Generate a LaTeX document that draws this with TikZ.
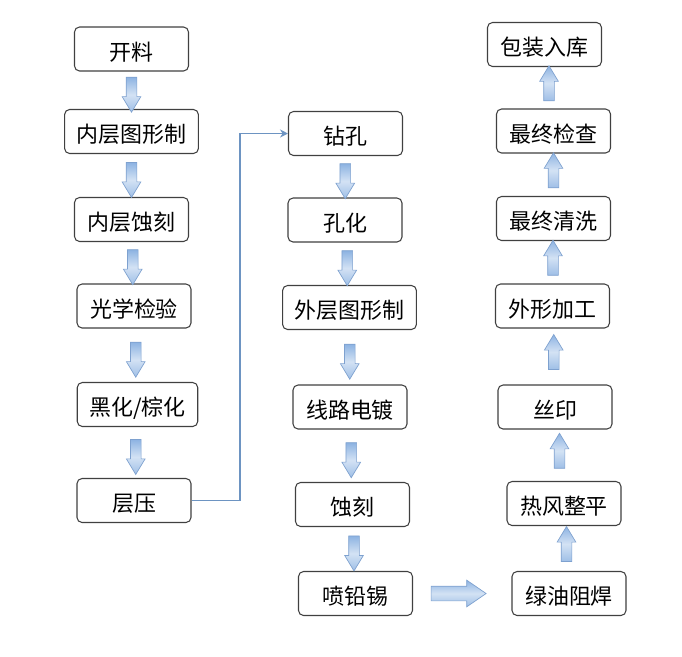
\documentclass[tikz,border=0pt]{standalone}
\usepackage{fontspec}
\usepackage{xcolor}
\usepackage{tikz}
\newfontfamily\cjk{Noto Sans CJK SC}
\usetikzlibrary{calc}
\usetikzlibrary{shapes.arrows, arrows.meta, positioning}

\definecolor{BoxLine}{HTML}{404040}
\definecolor{ArrowLight}{HTML}{D3E2F4}
\definecolor{ArrowDark}{HTML}{8DB3E2}
\definecolor{ArrowEdge}{HTML}{7EA1CF}
\definecolor{FlowLine}{HTML}{6D94C2}

\begin{document}
\begin{tikzpicture}[x=0.02cm,y=-0.02cm,
                    step node/.style={draw=BoxLine,line width=0.6pt,rounded corners=0.1cm,fill=white,
                                      font=\cjk\fontsize{12.5}{14}\selectfont,
                                      text height=1.3em,text depth=0pt,
                                      minimum width=2.28cm,minimum height=0.88cm,inner xsep=0.24cm},
                    block arrow/.style={single arrow,draw=ArrowEdge,line width=0.4pt,
                                        top color=ArrowDark,bottom color=ArrowDark!85,middle color=ArrowLight,
                                        inner xsep=0pt,inner ysep=0.1cm,minimum height=0.7cm,
                                        single arrow head extend=0.08cm,single arrow tip angle=62},
                    wide arrow/.style={inner ysep=0.14cm,minimum height=1.1cm,
                                       single arrow head extend=0.12cm,single arrow tip angle=69}]
\useasboundingbox (0,0) rectangle (682,656);

% left column
\node[step node] (Cut)        at (131.5,49)    {开料};
\node[step node] (InnerImage) at (131.5,131.5) {内层图形制};
\node[step node] (InnerEtch)  at (131.5,219.5) {内层蚀刻};
\node[step node] (AOI)        at (134,306)     {光学检验};
\node[step node] (Oxide)      at (137.5,404.5) {黑化/棕化};
\node[step node] (Lamination) at (134,500.5)   {层压};

% middle column
\node[step node] (Drill)      at (345.5,133.5) {钻孔};
\node[step node] (PTH)        at (345,220)     {孔化};
\node[step node] (OuterImage) at (349.5,307.5) {外层图形制};
\node[step node] (Plating)    at (350,407)     {线路电镀};
\node[step node] (Etch)       at (352.5,504.5) {蚀刻};
\node[step node] (HASL)       at (355.5,593.5) {喷铅锡};

% right column
\node[step node] (Packing)    at (544.5,44.5)  {包装入库};
\node[step node] (FinalCheck) at (553.5,131)   {最终检查};
\node[step node] (FinalClean) at (553.5,218.5) {最终清洗};
\node[step node] (Profile)    at (552.5,306)   {外形加工};
\node[step node] (Silk)       at (555,407)     {丝印};
\node[step node] (HotAir)     at (564,503.5)   {热风整平};
\node[step node] (SolderMask) at (569,593.5)   {绿油阻焊};

\foreach \a/\b in {Cut/InnerImage,InnerImage/InnerEtch,InnerEtch/AOI,AOI/Oxide,Oxide/Lamination,
                   Drill/PTH,PTH/OuterImage,OuterImage/Plating,Plating/Etch,Etch/HASL}
   \node[block arrow,rotate=-90] (\a Down) at ($(\a.south)!0.5!(\b.north)$) {};

\foreach \a/\b in {SolderMask/HotAir,HotAir/Silk,Silk/Profile,Profile/FinalClean,
                   FinalClean/FinalCheck,FinalCheck/Packing}
   \node[block arrow,rotate=90] (\a Up) at ($(\a.north)!0.5!(\b.south)$) {};

\node[block arrow,wide arrow,xshift=-0.18cm] (HASLRight) at ($(HASL.east)!0.5!(SolderMask.west)$) {};

\coordinate (Turn) at ($(Lamination.east)!0.5!(Drill.west)$);
\draw[FlowLine,line width=0.9pt,-{Stealth[length=4.5pt,width=4.5pt]}]
     (Lamination.east) -| (Turn) |- (Drill.west);
\end{tikzpicture}
\end{document}
